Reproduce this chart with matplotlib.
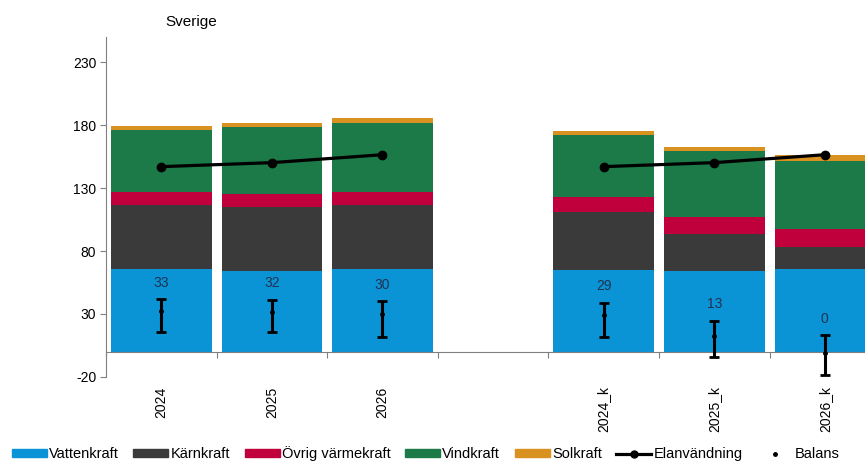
import numpy as np
import matplotlib.pyplot as plt
from matplotlib.lines import Line2D
from matplotlib.patches import Patch

plt.rcParams['font.family'] = ['Liberation Sans', 'DejaVu Sans']
plt.rcParams['axes.unicode_minus'] = False

# data (TWh)
years = ["2024", "2025", "2026", "2024_k", "2025_k", "2026_k"]
vattenkraft = [65.7, 64.1, 66.0, 64.9, 64.1, 65.5]
karnkraft = [50.9, 50.7, 50.6, 45.9, 29.5, 17.5]
ovrig = [10.4, 10.3, 10.6, 12.4, 13.7, 14.3]
vindkraft = [49.5, 53.3, 54.4, 49.4, 52.5, 54.3]
solkraft = [3.0, 3.7, 4.0, 3.1, 3.2, 4.8]
elanvandning = [147.1, 150.3, 156.6, 147.1, 150.3, 156.6]
balans = [33, 32, 30, 29, 13, 0]
balans_mid = [32.5, 31.7, 29.7, 29.1, 12.4, -1.4]
balans_lo = [15.9, 15.4, 11.9, 11.2, -4.0, -18.7]
balans_hi = [41.6, 41.0, 40.0, 38.9, 24.7, 12.9]

colors = {
    "Vattenkraft": "#0a94d6",
    "Kärnkraft": "#3a3a3a",
    "Övrig värmekraft": "#c0003c",
    "Vindkraft": "#1b7a47",
    "Solkraft": "#d9911f",
}

xpos = np.array([0, 1, 2, 4, 5, 6])

fig = plt.figure(figsize=(8.65, 4.63), dpi=100)
ax = fig.add_axes([0.1225, 0.1864, 0.895, 0.733])

bottom = np.zeros(len(years))
for name, vals in [("Vattenkraft", vattenkraft), ("Kärnkraft", karnkraft),
                   ("Övrig värmekraft", ovrig), ("Vindkraft", vindkraft),
                   ("Solkraft", solkraft)]:
    ax.bar(xpos, vals, width=0.91, bottom=bottom, color=colors[name], zorder=2)
    bottom += np.array(vals)

# Elanvändning, two separate segments
ax.plot(xpos[:3], elanvandning[:3], color="black", lw=2.3, marker="o", ms=6, zorder=4)
ax.plot(xpos[3:], elanvandning[3:], color="black", lw=2.3, marker="o", ms=6, zorder=4)

# Balans with range bars
mid = np.array(balans_mid)
yerr = [mid - np.array(balans_lo), np.array(balans_hi) - mid]
ax.errorbar(xpos, mid, yerr=yerr, fmt="o", ms=2.5, color="black", ecolor="black",
            elinewidth=2.2, capsize=3.5, capthick=2, zorder=5)
for x, v, hi in zip(xpos, balans, balans_hi):
    ax.annotate(str(v), (x, hi), xytext=(0, 12), textcoords="offset points",
                ha="center", va="center", fontsize=10, color="#1f3350", zorder=6)

ax.set_xlim(-0.5, 6.5)
ax.set_ylim(-20, 250)
ax.set_yticks([-20, 30, 80, 130, 180, 230])
ax.tick_params(axis="y", labelsize=10, length=4, color="#808080", pad=3)

for s in ["top", "right"]:
    ax.spines[s].set_visible(False)
ax.spines["left"].set_color("#808080")
ax.spines["bottom"].set_position(("data", 0))
ax.spines["bottom"].set_color("#808080")
ax.set_xticks(np.arange(-0.5, 7, 1))
ax.set_xticklabels([])
ax.tick_params(axis="x", length=4, color="#808080", direction="out")

for x, lab in zip(xpos, years):
    ax.annotate(lab, (x, 0), xycoords=("data", "axes fraction"), xytext=(0, -7),
                textcoords="offset points", rotation=90, ha="center", va="top",
                fontsize=10)

fig.text(165 / 865, 0.952, "Sverige", fontsize=11, ha="left", va="center")

handles = [Patch(color=colors[n]) for n in colors]
handles.append(Line2D([], [], color="black", lw=2.3, marker="o", ms=5))
handles.append(Line2D([], [], color="black", ls="none", marker="o", ms=2.5))
labels = list(colors) + ["Elanvändning", "Balans"]
fig.legend(handles, labels, loc="center", bbox_to_anchor=(0.492, 0.02), ncol=7,
           frameon=False, fontsize=10.5, handlelength=2.4, handleheight=0.4,
           handletextpad=0.15, columnspacing=1.0, borderpad=0.2)

fig.savefig("out.png", dpi=100)
